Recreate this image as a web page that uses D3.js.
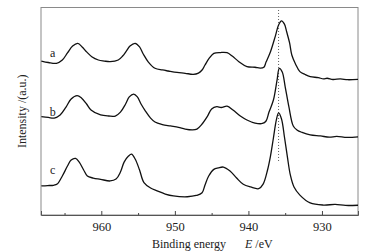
<!DOCTYPE html>
<html>
<head>
<meta charset="utf-8">
<script src="https://cdn.jsdelivr.net/npm/d3@7"></script>
<style>
  body { margin: 0; background: #fff; }
  text { font-family: "Liberation Serif", "Times New Roman", serif; fill: #222; }
</style>
</head>
<body>
<svg id="chart" width="380" height="252"></svg>
<script>
// binding energy (eV) and intensity (a.u., curves already offset)
const energyA = [968.15, 967.2, 966.1, 965.3, 964.6, 963.9, 963.2, 962.6, 962.0, 961.3, 960.4, 959.6, 958.8, 957.7, 957.1, 956.6, 956.1, 955.4, 954.8, 954.3, 953.6, 952.7, 951.7, 950.9, 949.7, 948.6, 947.5, 946.8, 946.3, 945.9, 945.3, 944.7, 943.8, 942.9, 942.2, 941.3, 940.2, 939.1, 938.4, 937.9, 937.6, 937.0, 936.3, 935.9, 935.5, 935.1, 934.8, 934.4, 934.1, 933.6, 933.0, 932.3, 931.6, 930.5, 929.8, 929.3, 928.5, 927.5, 926.5, 925.1];
const intensA = [74.2, 73.5, 73.1, 74.7, 78.1, 81.4, 82.7, 81.0, 78.6, 76.3, 74.7, 74.2, 73.9, 74.7, 76.6, 79.0, 81.4, 82.7, 81.0, 77.6, 73.7, 70.7, 69.9, 69.4, 68.7, 68.3, 67.8, 68.4, 69.9, 72.3, 75.7, 77.9, 78.3, 78.2, 76.6, 73.9, 71.5, 71.2, 70.8, 71.2, 73.7, 78.7, 86.7, 91.6, 93.6, 92.0, 88.3, 82.9, 77.1, 72.8, 69.1, 67.7, 66.7, 66.2, 65.6, 65.9, 65.3, 65.6, 65.2, 65.4];

const energyB = [968.15, 967.2, 966.4, 965.6, 964.8, 964.1, 963.3, 962.7, 962.0, 961.4, 960.1, 959.0, 958.1, 957.4, 956.7, 956.2, 955.6, 955.1, 954.6, 954.0, 953.3, 952.7, 951.7, 950.6, 949.5, 948.6, 947.6, 947.0, 946.4, 945.6, 945.0, 944.3, 943.7, 942.9, 942.1, 941.1, 940.2, 939.1, 938.1, 937.6, 937.2, 936.6, 936.1, 935.8, 935.4, 935.0, 934.5, 933.9, 933.4, 932.7, 931.6, 930.2, 929.0, 928.0, 926.6, 925.1];
const intensB = [47.4, 47.0, 46.7, 48.2, 52.0, 55.9, 57.5, 56.4, 53.5, 50.6, 48.2, 47.7, 47.7, 49.6, 53.5, 56.9, 58.3, 56.9, 53.5, 50.1, 46.7, 44.8, 43.6, 42.9, 42.2, 41.4, 41.0, 41.4, 43.4, 47.4, 51.1, 52.2, 51.8, 52.5, 50.6, 47.7, 45.8, 44.3, 44.1, 45.3, 49.6, 55.4, 65.1, 70.7, 68.9, 61.8, 52.2, 42.9, 41.0, 39.8, 38.6, 38.1, 37.5, 37.9, 37.4, 37.7];

const energyC = [968.15, 967.3, 966.5, 966.0, 965.3, 964.6, 964.1, 963.5, 963.0, 962.4, 961.9, 961.1, 960.1, 958.8, 958.0, 957.4, 956.9, 956.3, 955.9, 955.4, 954.8, 954.2, 953.3, 952.4, 951.3, 950.2, 948.3, 947.1, 946.3, 945.9, 945.4, 944.7, 944.1, 943.4, 942.5, 941.6, 940.7, 939.7, 938.6, 938.0, 937.4, 937.0, 936.6, 936.2, 935.9, 935.5, 935.1, 934.7, 934.3, 933.8, 933.0, 931.6, 929.8, 928.2, 926.8, 925.1];
const intensC = [14.0, 14.2, 14.3, 14.9, 18.8, 23.6, 26.5, 27.3, 25.5, 21.7, 18.8, 17.8, 17.2, 16.4, 17.3, 20.7, 25.5, 28.4, 29.3, 27.0, 21.7, 15.6, 13.0, 11.6, 10.1, 9.2, 8.8, 9.4, 10.7, 14.5, 18.8, 22.0, 22.7, 23.1, 21.2, 17.8, 14.8, 13.5, 12.7, 14.9, 21.7, 28.4, 37.1, 45.8, 49.2, 46.3, 37.6, 28.0, 19.3, 13.5, 9.6, 5.8, 4.8, 5.1, 4.6, 4.7];

const curveNames = ["a", "b", "c"];
const labelIntens = [76.1, 47.5, 20.0];
const labelEnergy = 966.6;
const peakLine = 935.9;
const peakLineRange = [25.1, 98.8];

const majorTicks = [960, 950, 940, 930];
const minorTicks = [965, 955, 945, 935];
const xTitle = "Binding energy";
const xUnit = " /eV";
const yTitle = "Intensity /(a.u.)";

const W = 380, H = 252;
const margin = {top: 7.5, right: 22, bottom: 37, left: 41};
const iw = W - margin.left - margin.right;
const ih = H - margin.top - margin.bottom;

const svg = d3.select("#chart");
const g = svg.append("g").attr("transform", `translate(${margin.left},${margin.top})`);

const x = d3.scaleLinear().domain([968.2, 925.1]).range([0, iw]);
const y = d3.scaleLinear().domain([0, 100]).range([ih, 0]);

// frame
g.append("rect")
  .attr("x", 0).attr("y", 0).attr("width", iw).attr("height", ih)
  .attr("fill", "none").attr("stroke", "#8a8a8a").attr("stroke-width", 1);

// bottom axis, ticks pointing inward
const ax = g.append("g").attr("transform", `translate(0,${ih})`)
  .call(d3.axisBottom(x).tickValues(majorTicks).tickSize(-4).tickPadding(7).tickFormat(d3.format("d")));
ax.select(".domain").attr("stroke", "#555");
ax.selectAll(".tick line").attr("stroke", "#444");
ax.selectAll("text").attr("font-size", "12.5px").attr("fill", "#222")
  .attr("font-family", "'Liberation Serif', serif");

const axm = g.append("g").attr("transform", `translate(0,${ih})`)
  .call(d3.axisBottom(x).tickValues(minorTicks).tickSize(-2).tickFormat(""));
axm.select(".domain").remove();
axm.selectAll(".tick line").attr("stroke", "#444");

// dotted marker at the main peak
g.append("line")
  .attr("x1", x(peakLine)).attr("x2", x(peakLine))
  .attr("y1", y(peakLineRange[1])).attr("y2", y(peakLineRange[0]))
  .attr("stroke", "#333").attr("stroke-width", 0.8).attr("stroke-dasharray", "1,2");

const series = [
  {name: curveNames[0], e: energyA, v: intensA},
  {name: curveNames[1], e: energyB, v: intensB},
  {name: curveNames[2], e: energyC, v: intensC}
];

const line = d3.line()
  .x(d => x(d[0]))
  .y(d => y(d[1]))
  .curve(d3.curveCatmullRom.alpha(0.5));

g.selectAll(".spec")
  .data(series)
  .join("path")
  .attr("class", "spec")
  .attr("fill", "none")
  .attr("stroke", "#111")
  .attr("stroke-width", 1.3)
  .attr("d", s => line(s.e.map((e, i) => [e, s.v[i]])));

g.selectAll(".lab")
  .data(series)
  .join("text")
  .attr("class", "lab")
  .attr("x", x(labelEnergy))
  .attr("y", (s, i) => y(labelIntens[i]))
  .attr("text-anchor", "middle")
  .attr("font-size", "12px")
  .text(s => s.name);

// axis titles
const xt = svg.append("text")
  .attr("y", 248)
  .attr("font-size", "12px");
xt.append("tspan").attr("x", margin.left + 111).text(xTitle);
xt.append("tspan").attr("x", margin.left + 204).attr("font-style", "italic").text("E");
xt.append("tspan").text(xUnit);

svg.append("text")
  .attr("transform", `translate(26,${margin.top + ih / 2}) rotate(-90)`)
  .attr("text-anchor", "middle")
  .attr("font-size", "12px")
  .text(yTitle);
</script>
</body>
</html>
